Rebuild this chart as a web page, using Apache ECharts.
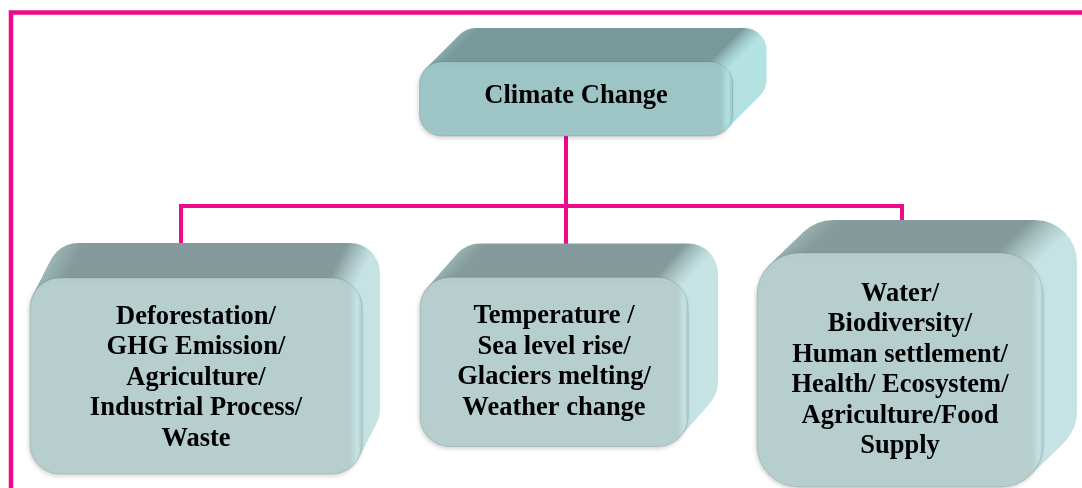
<!DOCTYPE html>
<html>
<head>
<meta charset="utf-8">
<script src="https://cdn.jsdelivr.net/npm/echarts@6/dist/echarts.min.js"></script>
<style>
html,body{margin:0;padding:0;background:#fff;}
#chart{width:1082px;height:488px;}
</style>
</head>
<body>
<div id="chart"></div>
<script>
// Diagram content
const nodeLabels = [
  'Climate Change',
  'Deforestation/\nGHG Emission/\nAgriculture/\nIndustrial Process/\nWaste',
  'Temperature /\nSea level rise/\nGlaciers melting/\nWeather change',
  'Water/\nBiodiversity/\nHuman settlement/\nHealth/ Ecosystem/\nAgriculture/Food\nSupply'
];
// Layout (diagram units = pixels of the hidden axes)
const nodeCenterX = [576, 196, 554, 900];
const nodeCenterY = [99, 376, 362, 370];
const nodeWidth   = [313, 332, 268, 286];
const nodeHeight  = [74, 196, 169, 234];
const nodeDepthX  = [34, 18, 30, 34];
const nodeDepthY  = [-34, -35, -34, -33];
const nodeRadius  = [22, 30, 30, 42];
const labelShiftY = [-3, 2, 0, 0];
// Connector paths
const trunkPath  = [[566, 136], [566, 243]];
const branchPath = [[181, 243], [181, 206], [902, 206], [902, 222]];
const framePath  = [[11, 488], [11, 12.5], [1082, 12.5]];

const palettes = [
  {front: '#9dc5c5', top: '#789999', topLight: '#8fb3b3', side: '#b4e2e2'},
  {front: '#b6cece', top: '#859b9b', topLight: '#a0bcbc', side: '#c6e3e3'},
  {front: '#b6cece', top: '#859b9b', topLight: '#a0bcbc', side: '#c6e3e3'},
  {front: '#b6cece', top: '#859b9b', topLight: '#a0bcbc', side: '#c6e3e3'}
];
const PINK = '#ee0a8c';

const chart = echarts.init(document.getElementById('chart'));

function renderBox(params, api) {
  const i = params.dataIndex;
  const cx = api.value(0), cy = api.value(1);
  const w0 = nodeWidth[i], h0 = nodeHeight[i];
  const p0 = api.coord([cx - w0 / 2, cy - h0 / 2]);
  const p1 = api.coord([cx + w0 / 2, cy + h0 / 2]);
  const pd = api.coord([cx - w0 / 2 + nodeDepthX[i], cy - h0 / 2 + nodeDepthY[i]]);
  const x = p0[0], y = p0[1], w = p1[0] - p0[0], h = p1[1] - p0[1];
  const ddx = pd[0] - x, ddy = pd[1] - y;
  const r = nodeRadius[i];
  const pal = palettes[i];
  const n = Math.ceil(Math.max(Math.abs(ddx), Math.abs(ddy)));
  const children = [];
  const a = r / w;
  const grad = {
    type: 'linear', x: 0, y: 0, x2: 1, y2: 0,
    colorStops: [
      {offset: 0, color: pal.topLight},
      {offset: Math.min(0.3, a * 1.2), color: pal.top},
      {offset: 1 - a * 1.1, color: pal.top},
      {offset: 1 - a * 0.25, color: pal.side},
      {offset: 1, color: pal.side}
    ]
  };
  for (let k = n; k >= 1; k--) {
    const t = k / n;
    children.push({
      type: 'rect',
      shape: {x: x + ddx * t, y: y + ddy * t, width: w, height: h, r: r},
      style: {fill: grad}
    });
  }
  children.push({
    type: 'rect',
    shape: {x: x, y: y, width: w, height: h, r: r},
    style: {
      fill: {
        type: 'linear', x: 0, y: 0, x2: 1, y2: 0,
        colorStops: [
          {offset: 0, color: pal.front},
          {offset: 0.96, color: pal.front},
          {offset: 0.985, color: pal.side},
          {offset: 1, color: pal.front}
        ]
      },
      stroke: 'rgba(120,150,150,0.35)', lineWidth: 1,
      shadowBlur: 4, shadowColor: 'rgba(0,0,0,0.18)', shadowOffsetX: -1, shadowOffsetY: 2
    }
  });
  children.push({
    type: 'text',
    style: {
      text: nodeLabels[i],
      x: x + w / 2, y: y + h / 2 + labelShiftY[i],
      align: 'center', verticalAlign: 'middle',
      font: 'bold 26.5px "Liberation Serif", "Times New Roman", serif',
      lineHeight: 30.5,
      fill: '#000'
    }
  });
  return {type: 'group', children: children};
}

function pinkLine(name, path, width) {
  return {
    name: name, type: 'line', data: path, symbol: 'none', silent: true,
    z: 1, animation: false,
    lineStyle: {color: PINK, width: width, cap: 'square', join: 'miter'}
  };
}

chart.setOption({
  animation: false,
  grid: {left: 0, right: 0, top: 0, bottom: 0},
  xAxis: {type: 'value', min: 0, max: 1082, show: false},
  yAxis: {type: 'value', min: 0, max: 488, inverse: true, show: false},
  series: [
    pinkLine('frame', framePath, 4.5),
    pinkLine('trunk', trunkPath, 4),
    pinkLine('branch', branchPath, 4),
    {
      type: 'custom', z: 5, silent: true,
      renderItem: renderBox,
      data: nodeCenterX.map((v, i) => [v, nodeCenterY[i]])
    }
  ]
});
</script>
</body>
</html>
